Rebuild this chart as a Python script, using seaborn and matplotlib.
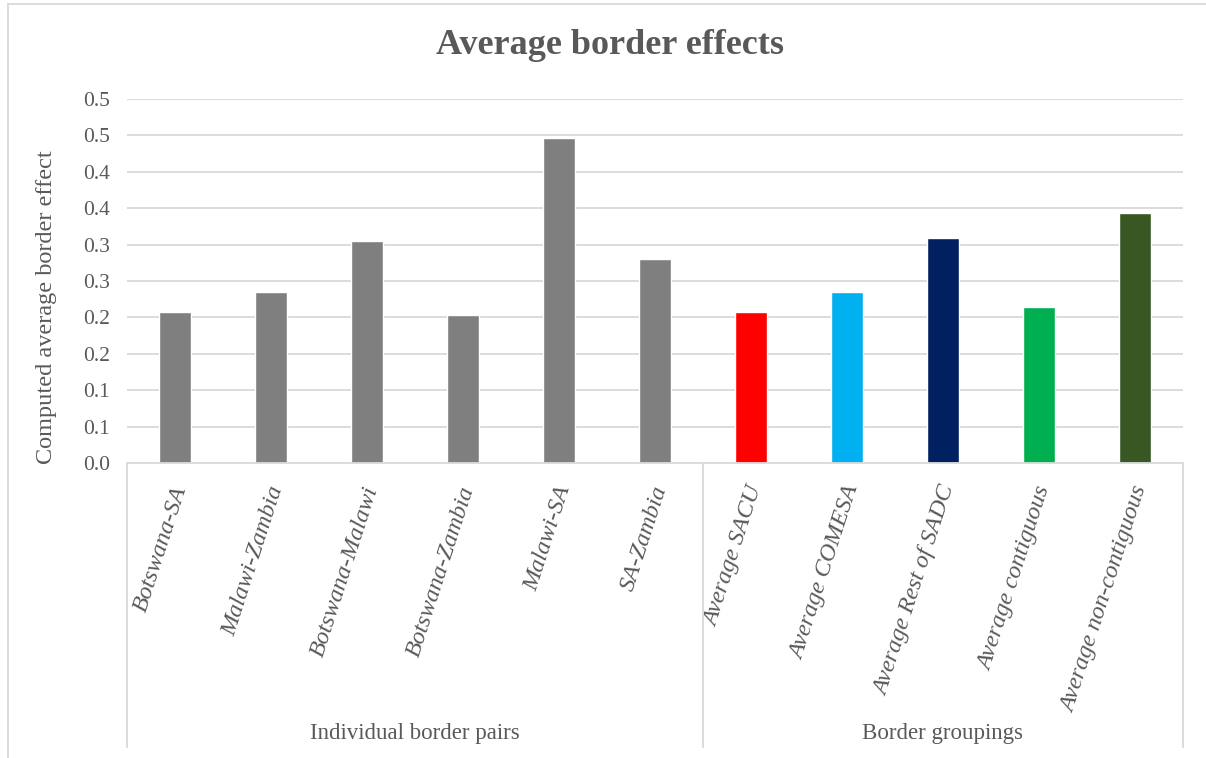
import matplotlib
matplotlib.use("Agg")
import matplotlib.pyplot as plt
import matplotlib.transforms as mtransforms
from matplotlib.lines import Line2D
import seaborn as sns
import pandas as pd

# Border pairs and groupings, with their computed average border effects
categories = [
    "Botswana-SA", "Malawi-Zambia", "Botswana-Malawi", "Botswana-Zambia",
    "Malawi-SA", "SA-Zambia",
    "Average SACU", "Average COMESA", "Average Rest of SADC",
    "Average contiguous", "Average non-contiguous",
]
values = [0.207, 0.235, 0.305, 0.203, 0.447, 0.280,
          0.207, 0.235, 0.309, 0.214, 0.344]
bar_colors = ["#7F7F7F"] * 6 + ["#FF0000", "#00B0F0", "#002060", "#00B050", "#385723"]

group_names = ["Individual border pairs", "Border groupings"]
group_sizes = [6, 5]

y_ticks = [0.0, 0.05, 0.10, 0.15, 0.20, 0.25, 0.30, 0.35, 0.40, 0.45, 0.50]
y_tick_labels = ["0.0", "0.1", "0.1", "0.2", "0.2", "0.3", "0.3", "0.4", "0.4", "0.5", "0.5"]

sns.set_theme(style="white")
plt.rcParams["font.family"] = ["Liberation Serif", "DejaVu Serif"]

TEXT = "#595959"
GRID = "#D9D9D9"

W, H = 1206, 758
fig = plt.figure(figsize=(W / 100, H / 100), dpi=100)
left, right, top, bottom = 127, 1183, 99, 463
ax = fig.add_axes([left / W, (H - bottom) / H, (right - left) / W, (bottom - top) / H])

df = pd.DataFrame({"category": categories, "value": values})
sns.barplot(data=df, x="category", y="value", hue="category",
            palette=bar_colors, width=0.33, saturation=1, legend=False, ax=ax)

ax.set_xlim(-0.5, len(categories) - 0.5)
ax.set_ylim(0, 0.5)
ax.set_yticks(y_ticks)
ax.set_yticklabels(y_tick_labels, fontsize=15.5, color=TEXT)
ax.tick_params(axis="y", length=0, pad=12)
ax.tick_params(axis="x", length=0, pad=17)
ax.yaxis.grid(True, color=GRID, linewidth=1.3)
ax.set_axisbelow(True)
for side in ["top", "right", "left"]:
    ax.spines[side].set_visible(False)
ax.spines["bottom"].set_color(GRID)
ax.spines["bottom"].set_linewidth(1.3)

ax.set_xticks(range(len(categories)))
ax.set_xticklabels(categories, rotation=72, ha="right", va="center",
                   rotation_mode="anchor", fontsize=17.5, style="italic", color=TEXT)
shift = mtransforms.ScaledTranslation(6 / 100, 0, fig.dpi_scale_trans)
for lbl in ax.get_xticklabels():
    lbl.set_transform(lbl.get_transform() + shift)
ax.set_xlabel("")
ax.set_ylabel("Computed average border effect", fontsize=17.5, color=TEXT)
ax.yaxis.set_label_coords(-(127 - 57) / (right - left), (bottom - 307) / (bottom - top))

# Group separators and group captions under the category labels
trans = mtransforms.blended_transform_factory(ax.transData, ax.transAxes)
depth = -(748 - 463) / (bottom - top)
edges = [-0.5]
for n in group_sizes:
    edges.append(edges[-1] + n)
for xe in edges:
    ax.plot([xe, xe], [0, depth], transform=trans, color=GRID, lw=1.3,
            clip_on=False, solid_capstyle="butt")
for i, name in enumerate(group_names):
    xc = (edges[i] + edges[i + 1]) / 2
    ax.text(xc, -(733 - 463) / (bottom - top), name, transform=trans,
            ha="center", va="center", fontsize=16.5, color=TEXT)

fig.suptitle("Average border effects", x=(435 + 785) / 2 / W, y=1 - 46 / H,
             va="center", fontsize=26, fontweight="bold", color=TEXT)

# Chart frame
fig.add_artist(Line2D([8 / W, 8 / W], [0, 1 - 4 / H], transform=fig.transFigure,
                      color=GRID, lw=1.3))
fig.add_artist(Line2D([8 / W, 1], [1 - 4 / H, 1 - 4 / H], transform=fig.transFigure,
                      color=GRID, lw=1.3))

fig.savefig("out.png", dpi=100, facecolor="white")
